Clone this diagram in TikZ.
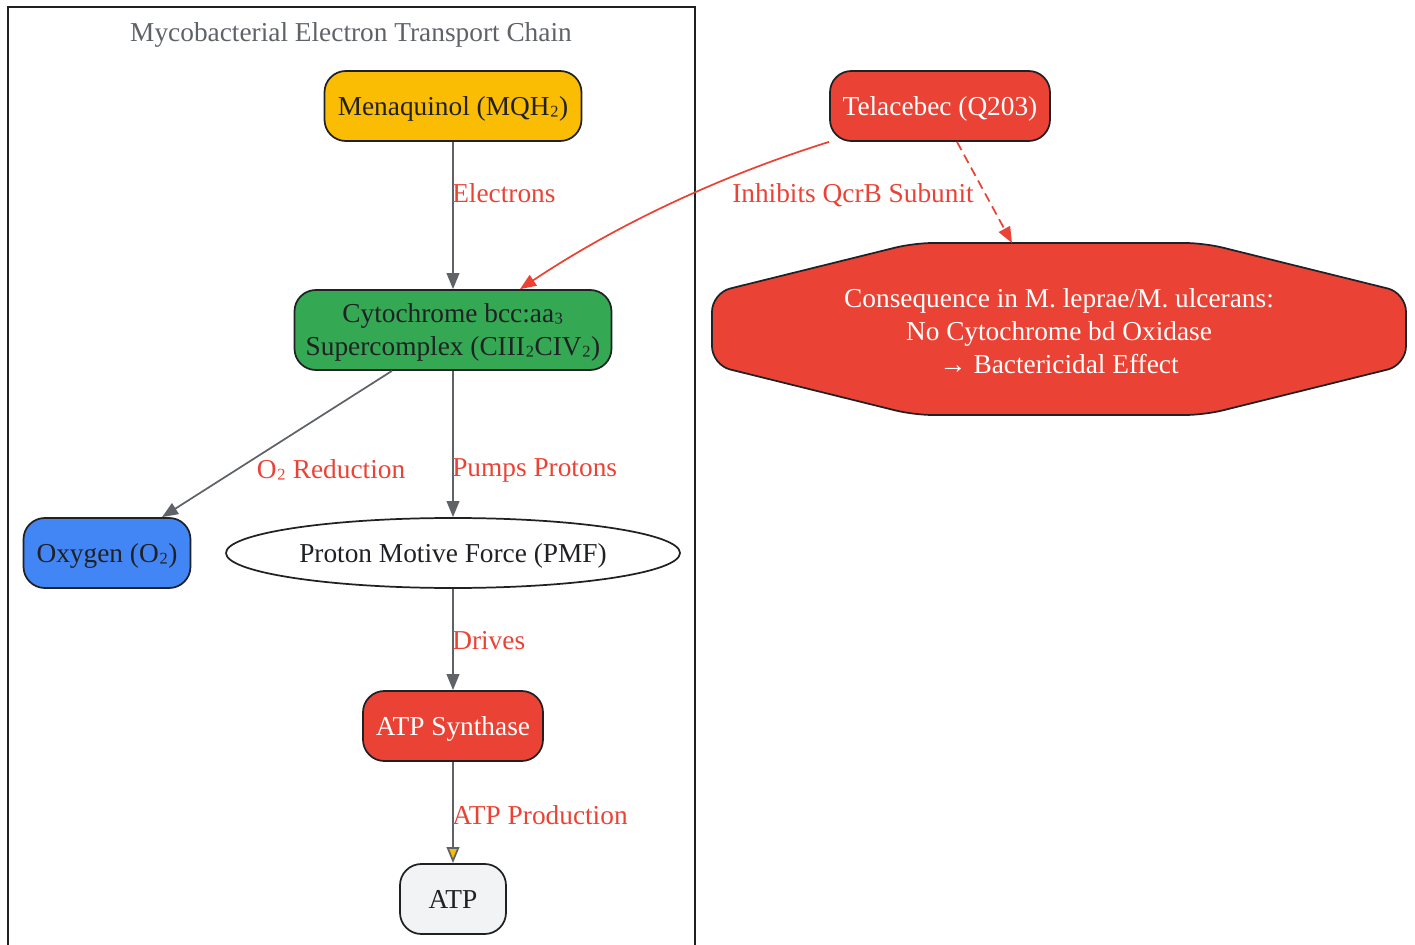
\documentclass[tikz,border=0pt]{standalone}
\usepackage{fontspec}
\setmainfont{Liberation Serif}
\usetikzlibrary{arrows.meta,shapes.geometric}
\definecolor{gyellow}{HTML}{FBBC04}
\definecolor{ggreen}{HTML}{34A853}
\definecolor{gblue}{HTML}{4285F4}
\definecolor{gred}{HTML}{EA4335}
\definecolor{glight}{HTML}{F1F3F4}
\definecolor{gdark}{HTML}{202124}
\definecolor{ggray}{HTML}{5F6368}
\newcommand{\lsub}[1]{\raisebox{3pt}{#1}}
\begin{document}
\begin{tikzpicture}[x=0.75pt,y=-0.75pt,
  every node/.style={font=\fontsize{20.5}{24.75}\selectfont},
  box/.style={draw=gdark, line width=1.3pt, rounded corners=16pt, text=gdark,
    align=center, inner sep=0pt, text depth=0pt},
  redbox/.style={box, fill=gred, text=white},
  lbl/.style={text=gred, inner sep=0pt},
  edge/.style={draw=ggray, line width=1.3pt, -{Triangle[length=12pt,width=9.5pt]}},
  redge/.style={draw=gred, line width=1.3pt, -{Triangle[length=12pt,width=9.5pt]}}
]
\useasboundingbox (0,0) rectangle (1415,945);
% cluster
\draw[gdark, line width=1.5pt] (8,950) -- (8,7) -- (695,7) -- (695,950);
\node[text=ggray] (title) at (351,34.5) {Mycobacterial Electron Transport Chain};

% nodes
\node[box, fill=gyellow, minimum width=192.75pt, minimum height=52.5pt] (mq) at (453,106) {Menaquinol (MQH\lsub{₂})};
\node[box, fill=ggreen, minimum width=237.75pt, minimum height=60pt] (cyto) at (453,330) {Cytochrome bcc:aa\lsub{₃}\\Supercomplex (CIII\lsub{₂}CIV\lsub{₂})};
\node[box, fill=gblue, minimum width=125.25pt, minimum height=52.5pt] (oxy) at (107,553) {Oxygen (O\lsub{₂})};
\node[draw=gdark, line width=1.3pt, ellipse, fill=white, text=gdark, inner sep=0pt, text depth=0pt, minimum width=340.5pt, minimum height=52.5pt] (pmf) at (453,553) {Proton Motive Force (PMF)};
\node[redbox, minimum width=135pt, minimum height=52.5pt] (atps) at (453,726) {ATP Synthase};
\node[box, fill=glight, minimum width=79.5pt, minimum height=52.5pt] (atp) at (453,899) {ATP};
\node[redbox, minimum width=165pt, minimum height=52.5pt] (tel) at (940,106) {Telacebec (Q203)};

% octagon
\draw[draw=gdark, fill=gred, line width=1.3pt, rounded corners=14pt]
  (914,243) -- (1204,243) -- (1406,293) -- (1406,365) -- (1204,415) -- (914,415) -- (712,365) -- (712,293) -- cycle;
\node[text=white, align=center, inner sep=0pt] (cons) at (1059,331) {Consequence in M. leprae/M. ulcerans:\\No Cytochrome bd Oxidase\\→ Bactericidal Effect};
\coordinate (consin) at (1012,243);

% edges
\draw[edge] (mq.south) -- (cyto.north);
\node[lbl, anchor=west] (l1) at (452,193) {Electrons};
\draw[edge] ([xshift=-45.75pt]cyto.south) -- ([xshift=41.25pt]oxy.north);
\node[lbl] (l2) at (331,470) {O\lsub{₂} Reduction};
\draw[edge] (cyto.south) -- (pmf.north);
\node[lbl, anchor=west] (l3) at (452,470) {Pumps Protons};
\draw[edge] (pmf.south) -- (atps.north);
\node[lbl, anchor=west] (l4) at (452,641) {Drives};
\draw[draw=ggray, line width=1.3pt, -{Triangle[length=12pt,width=9.5pt,fill=gyellow]}] (atps.south) -- (atp.north);
\node[lbl, anchor=west] (l5) at (452,815) {ATP Production};
\draw[redge] (tel.south west) .. controls (720,176) and (616,225) .. ([xshift=50.25pt]cyto.north);
\node[lbl] (l6) at (853,195) {Inhibits QcrB Subunit};
\draw[redge, dashed, dash pattern=on 7pt off 4pt] ([xshift=12.75pt]tel.south) -- (consin);
\end{tikzpicture}
\end{document}
